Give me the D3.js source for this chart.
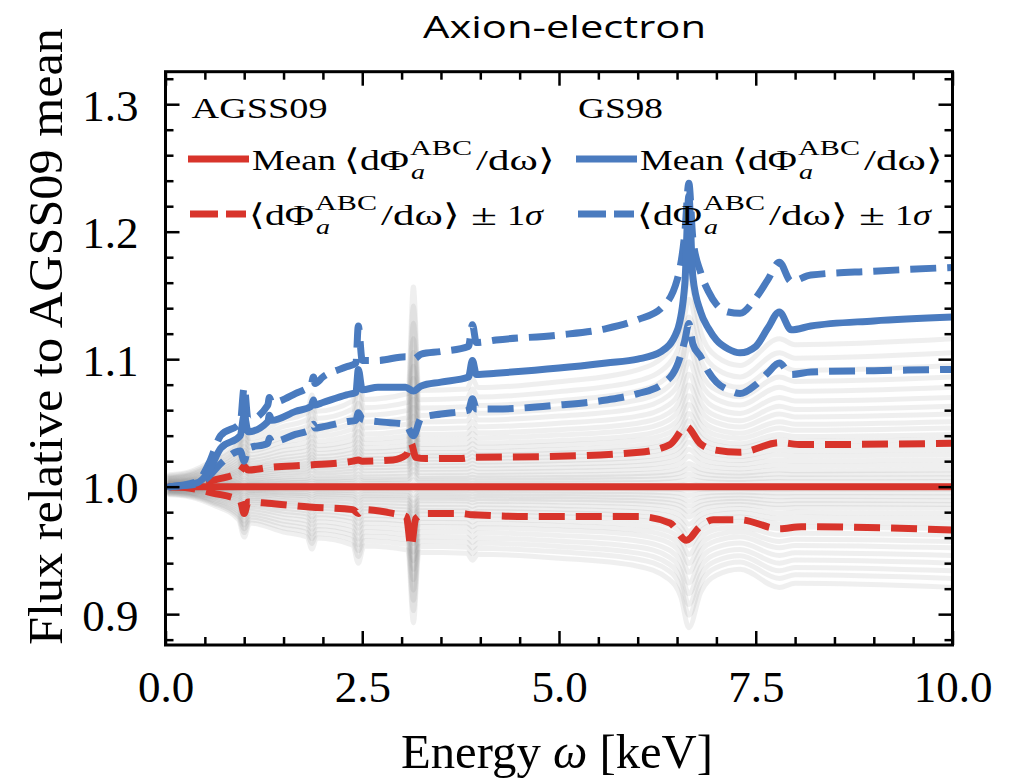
<!DOCTYPE html>
<html><head><meta charset="utf-8">
<script src="https://cdn.jsdelivr.net/npm/d3@7"></script>
<style>body{margin:0;background:#fff}</style>
</head><body>
<svg id="c" width="1010" height="780"></svg>
<script>
// ---------------- data ----------------
// GS98 (blue) curves, relative to AGSS09 mean
const blueEnergy = [0.05,0.4,0.55,0.7,0.95,1.0,1.05,1.3,1.32,1.35,1.65,1.85,1.88,1.9,2.0,2.3,2.42,2.45,2.5,2.7,3.05,3.15,3.25,3.5,3.85,3.9,3.95,4.2,5.0,5.6,6.0,6.3,6.5,6.6,6.65,6.7,6.8,6.9,7.0,7.15,7.3,7.5,7.65,7.8,7.95,8.2,9.0,10.0];
const blueMean  = [1.000,1.003,1.012,1.030,1.040,1.056,1.043,1.051,1.056,1.052,1.059,1.063,1.068,1.064,1.066,1.072,1.074,1.092,1.076,1.078,1.078,1.075,1.079,1.082,1.086,1.099,1.088,1.089,1.093,1.097,1.100,1.106,1.122,1.160,1.228,1.165,1.137,1.124,1.115,1.108,1.105,1.110,1.124,1.137,1.123,1.126,1.130,1.133];
const blueUpper = [1.000,1.004,1.018,1.040,1.050,1.078,1.052,1.064,1.070,1.066,1.073,1.080,1.086,1.081,1.086,1.094,1.097,1.126,1.099,1.099,1.102,1.100,1.104,1.106,1.110,1.127,1.113,1.115,1.119,1.124,1.131,1.140,1.162,1.200,1.238,1.195,1.168,1.153,1.143,1.137,1.136,1.148,1.162,1.176,1.161,1.166,1.169,1.172];
const blueLower = [1.000,1.002,1.008,1.018,1.028,1.020,1.030,1.034,1.038,1.035,1.041,1.045,1.049,1.046,1.047,1.051,1.052,1.058,1.053,1.051,1.049,1.040,1.054,1.057,1.060,1.069,1.061,1.061,1.064,1.068,1.073,1.080,1.095,1.115,1.128,1.112,1.102,1.090,1.082,1.076,1.073,1.080,1.089,1.097,1.088,1.090,1.091,1.092];

// AGSS09 (red) curves
const redEnergy = [0.05,0.3,0.6,0.95,1.0,1.05,1.3,1.83,2.38,2.45,2.5,2.89,3.06,3.12,3.18,3.31,3.74,3.9,4.76,6.02,6.41,6.62,6.79,6.96,7.3,7.8,8.08,10.0];
const redUpper = [1.000,1.001,1.005,1.012,1.016,1.013,1.015,1.017,1.020,1.021,1.020,1.021,1.025,1.034,1.023,1.022,1.022,1.023,1.0235,1.027,1.033,1.047,1.034,1.029,1.027,1.0345,1.033,1.034];
const redLower = [1.000,0.999,0.995,0.989,0.979,0.988,0.987,0.984,0.982,0.979,0.982,0.979,0.9765,0.953,0.975,0.979,0.979,0.978,0.9765,0.9765,0.9715,0.958,0.9686,0.974,0.974,0.967,0.9686,0.966];
const redMeanEnergy = [0.05, 10.0];
const redMean = [1.0, 1.0];

// individual Monte-Carlo realisations (grey): read end values at 10 keV
// and the common relative-deviation profile along the energy axis
const greyEnergy = [0.05,0.3,0.6,0.93,1.0,1.07,1.5,1.8,1.86,1.92,2.38,2.45,2.52,3.08,3.15,3.22,3.83,3.9,3.97,5.0,6.0,6.4,6.55,6.65,6.8,7.0,7.3,7.8,8.0,10.0];
const greyProfile = [0.08,0.1,0.18,0.33,0.5,0.36,0.45,0.5,0.62,0.51,0.58,0.76,0.59,0.63,1.35,0.65,0.66,0.73,0.67,0.71,0.79,0.92,1.1,1.4,1.05,0.88,0.82,1.0,0.96,1.0];
const greyEndValues = [1.116,1.105,1.095,1.086,1.078,1.070,1.063,1.057,1.051,1.046,1.041,1.037,1.033,1.029,1.025,1.021,1.017,1.013,1.010,1.007,1.004,1.001,0.998,0.995,0.992,0.989,0.986,0.983,0.979,0.975,0.971,0.967,0.962,0.957,0.952,0.946,0.940,0.934,0.928,0.921];

const xTicks = [0, 2.5, 5, 7.5, 10];
const xTickLabels = ["0.0","2.5","5.0","7.5","10.0"];
const yTicks = [0.9, 1.0, 1.1, 1.2, 1.3];
const yTickLabels = ["0.9","1.0","1.1","1.2","1.3"];

const RED = "#d8342b", BLUE = "#4a7bbf";

// ---------------- layout ----------------
const svg = d3.select("#c");
const L = 165.5, R = 952.5, T = 71.7, B = 645;
const x = d3.scaleLinear().domain([0, 10]).range([L, R]);
const y = d3.scaleLinear().domain([0.8758, 1.3255]).range([B, T]);
const serif = "'Liberation Serif','Times New Roman',serif";

svg.append("defs").append("clipPath").attr("id","clip")
  .append("rect").attr("x",L).attr("y",T).attr("width",R-L).attr("height",B-T);

const plot = svg.append("g").attr("clip-path","url(#clip)");
const line = d3.line().x(d=>x(d[0])).y(d=>y(d[1])).curve(d3.curveMonotoneX);

// grey realisations
greyEndValues.forEach(v => {
  const pts = greyEnergy.map((e,i)=>[e, 1 + (v-1)*greyProfile[i]]);
  plot.append("path").attr("d", line(pts)).attr("fill","none")
    .attr("stroke","#7a7a7a").attr("stroke-opacity",0.12).attr("stroke-width",5)
    .attr("stroke-linejoin","round").attr("stroke-linecap","round");
});

function curve(es, vs, color, dashed){
  plot.append("path").attr("d", line(es.map((e,i)=>[e,vs[i]])))
    .attr("fill","none").attr("stroke",color).attr("stroke-width",7)
    .attr("stroke-linejoin","round")
    .attr("stroke-linecap", dashed ? "butt" : "round")
    .attr("stroke-dasharray", dashed ? "26,11" : null);
}
curve(redEnergy, redUpper, RED, true);
curve(redEnergy, redLower, RED, true);
curve(redMeanEnergy, redMean, RED, false);
curve(blueEnergy, blueUpper, BLUE, true);
curve(blueEnergy, blueLower, BLUE, true);
curve(blueEnergy, blueMean, BLUE, false);

// ---------------- axes ----------------
const xMinor = d3.range(0.5, 10, 0.5).filter(v => Math.abs(v/2.5 - Math.round(v/2.5)) > 1e-6);
const yMinor = d3.range(0.88, 1.32, 0.02).filter(v => Math.abs(v*10 - Math.round(v*10)) > 1e-6);

function styleAxis(g){
  g.select(".domain").remove();
  g.selectAll("line").attr("stroke","#000").attr("stroke-width",2.5);
}
// bottom
svg.append("g").attr("transform",`translate(0,${B})`)
  .call(d3.axisBottom(x).tickValues(xMinor).tickSize(-8).tickFormat(""))
  .call(styleAxis);
const gxb = svg.append("g").attr("transform",`translate(0,${B})`)
  .call(d3.axisBottom(x).tickValues(xTicks).tickSize(-14).tickFormat((d,i)=>xTickLabels[i]))
  .call(styleAxis);
gxb.selectAll("text").attr("y",57).attr("dy",0).attr("font-family",serif).attr("font-size",45).attr("fill","#000");
// top
svg.append("g").attr("transform",`translate(0,${T})`)
  .call(d3.axisTop(x).tickValues(xMinor).tickSize(-8).tickFormat("")).call(styleAxis);
svg.append("g").attr("transform",`translate(0,${T})`)
  .call(d3.axisTop(x).tickValues(xTicks).tickSize(-14).tickFormat("")).call(styleAxis);
// left
svg.append("g").attr("transform",`translate(${L},0)`)
  .call(d3.axisLeft(y).tickValues(yMinor).tickSize(-8).tickFormat("")).call(styleAxis);
const gyl = svg.append("g").attr("transform",`translate(${L},0)`)
  .call(d3.axisLeft(y).tickValues(yTicks).tickSize(-14).tickFormat((d,i)=>yTickLabels[i]))
  .call(styleAxis);
gyl.selectAll("text").attr("x",-27).attr("dy","0.36em").attr("font-family",serif).attr("font-size",45).attr("fill","#000");
// right
svg.append("g").attr("transform",`translate(${R},0)`)
  .call(d3.axisRight(y).tickValues(yMinor).tickSize(-8).tickFormat("")).call(styleAxis);
svg.append("g").attr("transform",`translate(${R},0)`)
  .call(d3.axisRight(y).tickValues(yTicks).tickSize(-14).tickFormat("")).call(styleAxis);

svg.append("rect").attr("x",L).attr("y",T).attr("width",R-L).attr("height",B-T)
  .attr("fill","none").attr("stroke","#000").attr("stroke-width",3);

// ---------------- labels ----------------
svg.append("text").attr("x",564.5).attr("y",38).attr("text-anchor","middle")
  .attr("font-family","'Open Sans', Lato, sans-serif").attr("font-size",31)
  .attr("textLength",283).attr("lengthAdjust","spacingAndGlyphs").text("Axion-electron");

const xl = svg.append("text").attr("x",557).attr("y",768).attr("text-anchor","middle")
  .attr("font-family",serif).attr("font-size",48)
  .attr("textLength",312).attr("lengthAdjust","spacingAndGlyphs");
xl.append("tspan").text("Energy ");
xl.append("tspan").attr("font-style","italic").text("ω");
xl.append("tspan").text(" [keV]");

svg.append("text").attr("transform","translate(62,336.5) rotate(-90)").attr("text-anchor","middle")
  .attr("font-family",serif).attr("font-size",48)
  .attr("textLength",617).attr("lengthAdjust","spacingAndGlyphs")
  .text("Flux relative to AGSS09 mean");

// ---------------- legend ----------------
const leg = svg.append("g").attr("font-family",serif).attr("fill","#000");
function piece(txt, px, py, w, size, italic){
  const t = leg.append("text").attr("x",px).attr("y",py).attr("font-size",size)
    .attr("textLength",w).attr("lengthAdjust","spacingAndGlyphs").text(txt);
  if (italic) t.attr("font-style","italic");
  return t;
}
function flux(s, base){
  piece("⟨dΦ", s, base, 65, 30);
  piece("ABC", s+66, base-15, 62, 21);
  piece("a", s+67, base+9, 14, 22, true);
  piece("/dω⟩", s+132, base, 79, 30);
}
const cols = [{dx:0, color:RED, head:"AGSS09", hx:191.6, hw:136},
              {dx:388, color:BLUE, head:"GS98", hx:578, hw:85}];
cols.forEach(c=>{
  piece(c.head, c.hx, 118, c.hw, 30);
  // row 1: mean
  leg.append("line").attr("x1",188+c.dx).attr("x2",249+c.dx).attr("y1",159).attr("y2",159)
    .attr("stroke",c.color).attr("stroke-width",7);
  piece("Mean", 252+c.dx, 170, 84, 30);
  flux(344+c.dx, 170);
  // row 2: +-1 sigma
  leg.append("line").attr("x1",190+c.dx).attr("x2",246+c.dx).attr("y1",214).attr("y2",214)
    .attr("stroke",c.color).attr("stroke-width",7).attr("stroke-dasharray","28,8");
  flux(249+c.dx, 225);
  piece("±", 249+c.dx+222, 225, 26, 30);
  const t = leg.append("text").attr("x",249+c.dx+258).attr("y",225).attr("font-size",30)
    .attr("textLength",36).attr("lengthAdjust","spacingAndGlyphs");
  t.append("tspan").text("1");
  t.append("tspan").attr("font-style","italic").text("σ");
});
</script>
</body></html>
